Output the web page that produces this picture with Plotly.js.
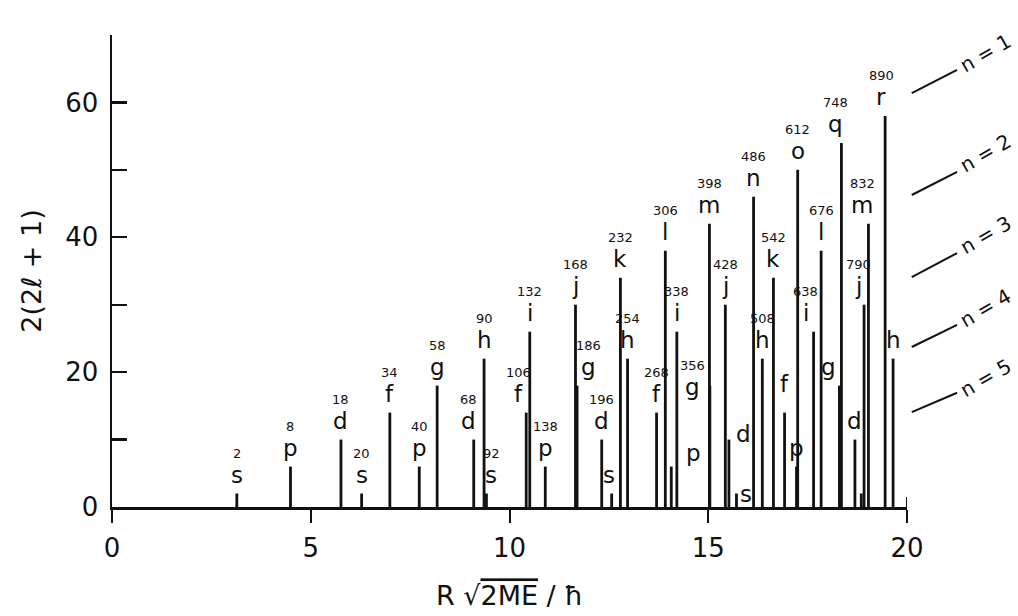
<!DOCTYPE html>
<html>
<head>
<meta charset="utf-8">
<script src="https://cdn.plot.ly/plotly-3.0.1.min.js"></script>
<style>
  html, body { margin: 0; padding: 0; background: #fff; }
  #chart { width: 1018px; height: 616px; }
</style>
</head>
<body>
<div id="chart"></div>
<script>
// Levels of a particle in an infinite spherical well, in order of R*sqrt(2ME)/hbar.
// Each level: its position, its degeneracy 2(2l+1), orbital letter and running total.
const positions = [3.14, 4.49, 5.76, 6.28, 6.99, 7.73, 8.18, 9.10, 9.36, 9.42,
                   10.42, 10.51, 10.90, 11.66, 11.70, 12.32, 12.57, 12.79, 12.97, 13.70,
                   13.92, 14.07, 14.21, 15.04, 15.03, 15.43, 15.52, 15.71, 16.14, 16.36,
                   16.64, 16.92, 17.22, 17.25, 17.65, 17.84, 18.30, 18.35, 18.69, 18.85,
                   18.92, 19.03, 19.45, 19.65];
const degeneracy = [2, 6, 10, 2, 14, 6, 18, 10, 22, 2,
                    14, 26, 6, 30, 18, 10, 2, 34, 22, 14,
                    38, 6, 26, 18, 42, 30, 10, 2, 46, 22,
                    34, 14, 6, 50, 26, 38, 18, 54, 10, 2,
                    30, 42, 58, 22];
const orbitals = ['s', 'p', 'd', 's', 'f', 'p', 'g', 'd', 'h', 's',
                  'f', 'i', 'p', 'j', 'g', 'd', 's', 'k', 'h', 'f',
                  'l', 'p', 'i', 'g', 'm', 'j', 'd', 's', 'n', 'h',
                  'k', 'f', 'p', 'o', 'i', 'l', 'g', 'q', 'd', '',
                  'j', 'm', 'r', 'h'];
const totals = ['2', '8', '18', '20', '34', '40', '58', '68', '90', '92',
                '106', '132', '138', '168', '186', '196', '', '232', '254', '268',
                '306', '', '338', '356', '398', '428', '', '', '486', '508',
                '542', '', '', '612', '638', '676', '', '748', '', '',
                '790', '832', '890', ''];
const xTicks = [0, 5, 10, 15, 20];
const yTicks = [0, 10, 20, 30, 40, 50, 60, 70];
const yTickText = ['0', '', '20', '', '40', '', '60', ''];
const shellNames = ['n = 1', 'n = 2', 'n = 3', 'n = 4', 'n = 5'];

// Label nudges (pixels) where neighbouring lines crowd each other.
const nudgeX = {7: -5, 9: 5, 10: -8, 14: 11, 16: -3, 21: 22, 23: -17, 26: 15, 27: 10,
                34: -8, 36: -11, 37: -6, 40: -6, 41: -6, 42: -4};
const nudgeY = {21: -5, 23: -20, 26: -13, 27: -19, 31: 10};

const FONT = 'DejaVu Sans, Verdana, sans-serif';

// Vertical lines, one per level, joined into a single trace with gaps.
const lx = [], ly = [];
positions.forEach((p, i) => {
  lx.push(p, p, null);
  ly.push(0, degeneracy[i], null);
});

const lines = {
  x: lx, y: ly,
  type: 'scatter', mode: 'lines',
  line: { color: '#111', width: 2.8 },
  hoverinfo: 'skip',
  showlegend: false,
  cliponaxis: false
};

const annotations = [];
positions.forEach((p, i) => {
  const dx = nudgeX[i] || 0;
  const dy = nudgeY[i] || 0;
  if (orbitals[i]) {
    annotations.push({
      x: p, y: degeneracy[i], xref: 'x', yref: 'y',
      text: orbitals[i], showarrow: false,
      xanchor: 'center', yanchor: 'middle',
      xshift: dx, yshift: 19 + dy,
      font: { family: FONT, size: 23, color: '#111' }
    });
  }
  if (totals[i]) {
    annotations.push({
      x: p, y: degeneracy[i], xref: 'x', yref: 'y',
      text: totals[i], showarrow: false,
      xanchor: 'center', yanchor: 'middle',
      xshift: dx, yshift: 40 + dy,
      font: { family: FONT, size: 13, color: '#111' }
    });
  }
});

// Shell markers to the right of the plot.
const shellLineY = [[0.877, 0.926], [0.661, 0.710], [0.487, 0.538], [0.339, 0.386], [0.201, 0.242]];
const shellTextY = [0.962, 0.750, 0.577, 0.422, 0.274];
const shapes = [];
shellNames.forEach((name, k) => {
  shapes.push({
    type: 'line', xref: 'paper', yref: 'paper',
    x0: 1.006, x1: 1.063, y0: shellLineY[k][0], y1: shellLineY[k][1],
    line: { color: '#111', width: 2 }
  });
  annotations.push({
    x: 1.099, y: shellTextY[k], xref: 'paper', yref: 'paper',
    text: name, showarrow: false, textangle: -30,
    xanchor: 'center', yanchor: 'middle',
    font: { family: FONT, size: 20, color: '#111' }
  });
});

// Upper half of the tick at the right end of the x axis.
shapes.push({
  type: 'line', xref: 'x', yref: 'paper',
  x0: 20, x1: 20, y0: 0, y1: 0.021,
  line: { color: '#111', width: 2 }
});

const layout = {
  width: 1018, height: 616,
  margin: { l: 112, r: 111, t: 35, b: 109 },
  paper_bgcolor: '#fff', plot_bgcolor: '#fff',
  showlegend: false,
  font: { family: FONT, color: '#111' },
  xaxis: {
    range: [0, 20], fixedrange: true,
    showline: true, linecolor: '#111', linewidth: 2.5,
    showgrid: false, zeroline: false,
    ticks: 'outside', ticklen: 13, tickwidth: 2, tickcolor: '#111',
    tickmode: 'array', tickvals: xTicks,
    ticklabelstandoff: 3,
    tickfont: { family: FONT, size: 26, color: '#111' },
    title: {
      text: 'R \u221A<span style="text-decoration:overline">2ME</span> / \u0127',
      font: { family: FONT, size: 27, color: '#111' },
      standoff: 25
    },
    automargin: false
  },
  yaxis: {
    range: [0, 70], fixedrange: true,
    showline: true, linecolor: '#111', linewidth: 2.5,
    showgrid: false, zeroline: false,
    ticks: 'inside', ticklen: 15, tickwidth: 2.2, tickcolor: '#111',
    tickmode: 'array', tickvals: yTicks, ticktext: yTickText,
    ticklabelstandoff: 6,
    tickfont: { family: FONT, size: 26, color: '#111' },
    title: {
      text: '2(2\u2113 + 1)',
      font: { family: FONT, size: 27, color: '#111' },
      standoff: 16
    },
    automargin: false
  },
  annotations: annotations,
  shapes: shapes
};

Plotly.newPlot('chart', [lines], layout, { displayModeBar: false, staticPlot: true });
</script>
</body>
</html>
